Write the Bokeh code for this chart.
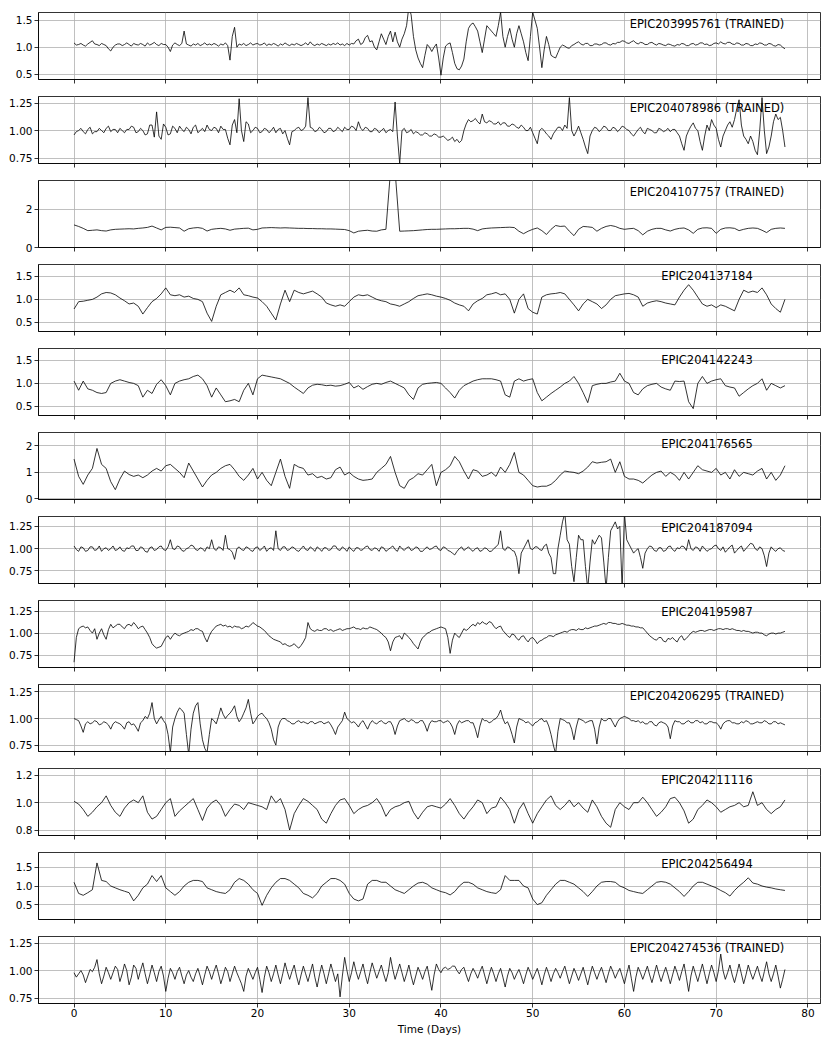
import numpy as np
from bokeh.plotting import figure
from bokeh.layouts import column
from bokeh.models import FixedTicker, Label, Range1d
from bokeh.embed import file_html
from bokeh.resources import INLINE

# ---------------- data ----------------
T_END = 77.5   # days; every series is sampled evenly from 0 to T_END

names = ["EPIC203995761 (TRAINED)", "EPIC204078986 (TRAINED)", "EPIC204107757 (TRAINED)",
         "EPIC204137184", "EPIC204142243", "EPIC204176565", "EPIC204187094",
         "EPIC204195987", "EPIC204206295 (TRAINED)", "EPIC204211116",
         "EPIC204256494", "EPIC204274536 (TRAINED)"]

# 0.25-day cadence
flux_203995761 = [
    1.08, 1.04, 1.05, 1.07, 1.04, 1.02, 1.06, 1.09, 1.12, 1.06, 1.05, 1.03, 1.07, 1.05, 1.03, 0.97, 0.93, 1.00, 1.04, 1.06,
    1.06, 1.03, 1.05, 1.08, 1.05, 1.02, 1.07, 1.05, 1.04, 1.07, 1.05, 1.02, 1.08, 1.04, 1.06, 1.09, 1.05, 1.03, 1.07, 1.05,
    1.05, 1.00, 0.92, 1.04, 1.08, 1.05, 1.03, 1.07, 1.30, 1.06, 1.04, 1.02, 1.06, 1.04, 1.07, 1.03, 1.05, 1.08, 1.04, 1.06,
    1.04, 1.07, 1.05, 1.02, 1.06, 1.04, 1.08, 1.03, 0.76, 1.20, 1.37, 1.00, 1.06, 1.04, 1.07, 1.03, 1.05, 1.08, 1.04, 1.06,
    1.07, 1.04, 1.05, 1.08, 1.03, 1.06, 1.04, 1.07, 1.05, 1.02, 1.06, 1.04, 1.08, 1.05, 1.03, 1.06, 1.04, 1.07, 1.05, 1.03,
    1.05, 1.08, 1.04, 1.10, 1.05, 1.03, 1.06, 1.04, 1.07, 1.05, 1.03, 1.06, 1.04, 1.07, 1.05, 1.08, 1.04, 1.06, 1.03, 1.07,
    1.04, 1.07, 1.06, 1.12, 1.15, 1.05, 1.08, 1.18, 1.22, 1.10, 1.12, 1.00, 0.95, 1.10, 1.25, 1.15, 1.05, 1.20, 1.30, 1.10,
    1.28, 1.10, 1.00, 1.15, 1.25, 1.40, 1.75, 1.60, 1.20, 0.95, 0.80, 0.70, 0.62, 0.85, 1.05, 1.00, 0.92, 1.00, 1.06, 0.80,
    0.48, 0.80, 1.02, 1.06, 1.08, 0.90, 0.70, 0.60, 0.58, 0.65, 0.78, 1.10, 1.35, 1.42, 1.45, 1.38, 1.30, 1.10, 0.90, 1.15,
    1.40, 1.35, 1.30, 1.25, 1.20, 1.40, 1.65, 1.20, 1.00, 1.20, 1.35, 1.15, 1.00, 1.25, 1.40, 1.25, 1.10, 0.90, 0.75, 1.20,
    1.65, 1.50, 1.35, 1.00, 0.62, 0.95, 1.20, 1.05, 0.85, 0.82, 0.80, 0.90, 1.00, 1.04, 1.02, 0.99, 0.98, 1.03, 1.05, 1.08,
    1.10, 1.06, 1.04, 1.07, 1.07, 1.03, 1.03, 1.06, 1.06, 1.04, 1.05, 1.08, 1.08, 1.05, 1.04, 1.07, 1.06, 1.09, 1.09, 1.12,
    1.11, 1.08, 1.07, 1.10, 1.12, 1.08, 1.06, 1.09, 1.08, 1.05, 1.05, 1.08, 1.09, 1.06, 1.04, 1.07, 1.06, 1.04, 1.03, 1.06,
    1.05, 1.03, 1.02, 1.05, 1.04, 1.07, 1.06, 1.03, 1.03, 1.06, 1.07, 1.04, 1.05, 1.08, 1.08, 1.05, 1.06, 1.03, 1.04, 1.07,
    1.08, 1.06, 1.10, 1.07, 1.06, 1.09, 1.09, 1.06, 1.05, 1.08, 1.07, 1.04, 1.04, 1.07, 1.06, 1.03, 1.03, 1.06, 1.05, 1.08,
    1.07, 1.04, 1.04, 1.07, 1.06, 1.03, 1.02, 1.05, 1.04, 1.00, 0.97]

flux_204078986 = [
    0.96, 0.99, 1.00, 1.02, 0.99, 0.97, 1.01, 1.03, 0.97, 0.99, 0.99, 1.02, 1.00, 0.98, 1.02, 1.04, 0.99, 1.01, 1.01, 0.98,
    1.02, 1.00, 0.98, 1.01, 1.01, 1.04, 1.03, 0.98, 0.99, 1.02, 1.00, 0.96, 0.97, 1.05, 1.05, 0.94, 1.17, 0.95, 0.92, 1.06,
    1.03, 0.96, 0.97, 1.04, 1.02, 0.98, 1.04, 1.01, 0.99, 1.03, 1.01, 0.97, 1.03, 1.05, 0.98, 1.00, 1.02, 0.99, 1.05, 1.01,
    1.00, 1.03, 1.02, 0.98, 1.04, 1.01, 1.01, 0.93, 0.87, 1.05, 1.10, 0.98, 1.29, 1.00, 0.90, 1.08, 1.06, 0.98, 1.00, 1.03,
    1.02, 0.98, 0.99, 1.02, 1.01, 0.98, 1.00, 1.03, 0.98, 1.01, 1.02, 0.97, 1.00, 0.93, 0.87, 0.99, 1.00, 1.02, 1.03, 1.00,
    1.01, 1.04, 1.30, 1.03, 1.02, 0.99, 1.00, 1.03, 1.01, 0.98, 0.99, 1.02, 1.02, 0.99, 1.00, 1.03, 1.01, 0.99, 1.03, 1.01,
    1.01, 1.04, 1.03, 1.00, 1.08, 1.02, 1.00, 1.03, 1.02, 0.99, 0.99, 1.02, 1.01, 0.98, 1.00, 1.02, 0.98, 1.00, 1.01, 0.99,
    1.26, 0.95, 0.70, 1.00, 1.02, 0.98, 0.99, 1.01, 0.97, 0.99, 0.98, 0.96, 0.96, 0.98, 0.97, 0.95, 0.95, 0.97, 0.96, 0.94,
    0.94, 0.95, 0.93, 0.91, 0.92, 0.94, 0.90, 0.92, 0.89, 0.91, 1.00, 1.06, 1.10, 1.08, 1.09, 1.11, 1.08, 1.06, 1.15, 1.08,
    1.07, 1.09, 1.08, 1.06, 1.06, 1.08, 1.05, 1.07, 1.07, 1.04, 1.04, 1.06, 1.05, 1.03, 1.02, 1.05, 1.03, 1.00, 1.00, 1.03,
    0.98, 0.93, 0.88, 1.00, 1.02, 1.00, 0.97, 0.95, 0.92, 0.97, 1.00, 1.03, 1.03, 1.00, 1.05, 1.02, 1.30, 1.00, 0.95, 0.99,
    1.04, 0.98, 0.92, 0.85, 0.79, 0.95, 1.00, 1.03, 1.02, 0.99, 1.01, 1.04, 1.03, 1.00, 1.00, 1.03, 1.02, 0.99, 1.01, 1.04,
    1.03, 1.01, 1.00, 0.97, 0.95, 0.98, 1.01, 1.03, 0.99, 0.97, 1.02, 1.01, 1.00, 0.98, 0.98, 1.02, 1.01, 0.99, 1.00, 1.02,
    0.99, 1.01, 1.01, 0.98, 0.95, 0.88, 0.82, 0.95, 1.00, 1.04, 1.07, 1.02, 1.00, 0.90, 0.82, 0.95, 1.05, 1.00, 1.10, 1.05,
    1.02, 0.92, 0.85, 0.95, 1.00, 1.05, 1.08, 1.03, 1.10, 1.20, 1.28, 1.05, 0.95, 0.92, 0.88, 0.95, 0.90, 0.82, 0.78, 1.00,
    1.30, 1.00, 0.79, 0.85, 0.95, 1.08, 1.15, 1.10, 1.12, 1.00, 0.85]

# 0.5-day cadence
flux_204107757 = [
    1.18, 1.10, 1.00, 0.88, 0.90, 0.92, 0.88, 0.86, 0.92, 0.95,
    0.96, 0.97, 0.98, 0.97, 1.00, 1.02, 1.05, 1.12, 1.02, 0.92,
    1.05, 1.06, 1.04, 1.02, 0.85, 0.98, 1.02, 1.04, 1.00, 0.86,
    0.95, 0.98, 1.00, 0.97, 0.90, 0.96, 0.98, 1.00, 1.01, 0.92,
    0.95, 1.02, 1.03, 1.04, 1.03, 1.02, 1.03, 1.02, 1.01, 1.00,
    1.00, 0.99, 0.99, 0.98, 0.98, 0.97, 0.97, 0.96, 0.95, 0.94,
    0.88, 0.76, 0.85, 0.88, 0.90, 0.86, 0.85, 0.92, 0.95, 4.00,
    4.00, 0.85, 0.86, 0.87, 0.88, 0.90, 0.92, 0.94, 0.95, 0.95,
    0.96, 0.97, 0.98, 0.98, 0.99, 1.00, 1.00, 0.96, 0.88, 0.97,
    1.00, 1.02, 1.03, 1.04, 1.05, 1.06, 1.04, 0.85, 0.72, 0.85,
    0.95, 1.02, 0.88, 0.68, 0.95, 1.15, 1.10, 1.12, 0.85, 0.62,
    0.95, 1.10, 1.08, 1.05, 0.85, 1.00, 1.10, 1.15, 1.10, 1.00,
    0.95, 0.98, 1.00, 0.88, 0.66, 0.85, 0.95, 1.00, 1.00, 0.92,
    0.86, 0.95, 1.00, 1.02, 0.92, 0.74, 0.95, 1.02, 1.03, 1.00,
    0.74, 0.95, 1.02, 1.03, 1.00, 0.88, 0.95, 1.00, 1.02, 1.00,
    0.90, 0.78, 0.95, 1.00, 1.02, 1.00]

flux_204137184 = [
    0.79, 0.95, 0.96, 0.98, 1.00, 1.05, 1.12, 1.15, 1.14, 1.10,
    1.03, 0.97, 0.90, 0.92, 0.85, 0.68, 0.82, 0.95, 1.02, 1.12,
    1.25, 1.10, 1.08, 1.10, 1.05, 1.07, 1.02, 1.00, 0.95, 0.70,
    0.52, 0.85, 1.10, 1.15, 1.20, 1.15, 1.25, 1.10, 1.08, 1.05,
    1.03, 0.95, 0.85, 0.70, 0.55, 0.90, 1.20, 0.95, 1.20, 1.15,
    1.12, 1.15, 1.18, 1.12, 1.05, 0.92, 0.88, 0.85, 0.88, 0.85,
    0.95, 1.05, 1.10, 1.08, 1.10, 1.05, 1.00, 0.97, 0.95, 0.90,
    0.88, 0.85, 0.90, 0.95, 1.02, 1.08, 1.10, 1.12, 1.10, 1.07,
    1.05, 1.02, 0.98, 0.92, 0.88, 0.85, 0.75, 0.90, 0.97, 1.02,
    1.10, 1.12, 1.15, 1.10, 1.12, 1.00, 0.70, 1.00, 1.12, 0.80,
    0.72, 0.68, 1.05, 1.10, 1.12, 1.13, 1.15, 1.12, 1.00, 0.88,
    0.75, 0.90, 1.00, 0.95, 0.90, 0.80, 0.88, 1.00, 1.08, 1.10,
    1.12, 1.13, 1.10, 1.05, 0.85, 0.92, 0.95, 0.97, 0.95, 0.92,
    0.90, 0.88, 1.05, 1.20, 1.32, 1.20, 1.05, 0.90, 0.85, 0.88,
    0.82, 0.88, 0.85, 0.80, 0.75, 1.00, 1.20, 1.15, 1.18, 1.15,
    1.25, 1.10, 0.90, 0.80, 0.72, 1.00]

flux_204142243 = [
    1.05, 0.85, 1.05, 0.88, 0.85, 0.80, 0.78, 0.80, 1.00, 1.05,
    1.08, 1.05, 1.02, 1.00, 0.95, 0.70, 0.85, 0.78, 0.98, 1.08,
    0.95, 0.75, 1.00, 1.05, 1.08, 1.10, 1.15, 1.18, 1.10, 0.95,
    0.70, 0.90, 0.75, 0.60, 0.62, 0.65, 0.60, 0.85, 1.00, 0.75,
    1.10, 1.18, 1.16, 1.14, 1.12, 1.10, 1.05, 1.00, 0.92, 0.85,
    0.78, 0.90, 0.96, 0.98, 0.97, 0.95, 0.96, 0.94, 0.95, 0.98,
    1.02, 0.90, 0.95, 0.87, 0.93, 0.98, 1.00, 0.98, 1.02, 1.05,
    1.00, 0.95, 0.90, 0.75, 0.65, 0.90, 0.98, 1.00, 1.01, 1.02,
    1.00, 0.90, 0.80, 0.68, 0.85, 0.95, 1.00, 1.05, 1.08, 1.10,
    1.10, 1.10, 1.08, 1.05, 0.75, 0.70, 1.05, 1.10, 1.05, 1.08,
    1.10, 0.80, 0.62, 0.70, 0.78, 0.85, 0.92, 1.00, 1.05, 1.15,
    1.00, 0.80, 0.58, 0.95, 0.98, 1.00, 1.00, 1.03, 1.05, 1.22,
    1.05, 1.00, 0.80, 0.75, 0.88, 0.95, 0.98, 1.00, 0.92, 0.88,
    0.85, 1.05, 1.04, 1.05, 0.60, 0.45, 1.00, 1.15, 1.00, 1.05,
    1.08, 1.10, 0.95, 0.92, 0.90, 0.72, 0.80, 0.88, 0.95, 1.00,
    1.10, 0.85, 1.00, 0.95, 0.90, 0.95]

flux_204176565 = [
    1.50, 0.85, 0.55, 0.90, 1.15, 1.90, 1.30, 1.15, 0.65, 0.35,
    0.75, 1.05, 0.92, 0.85, 0.90, 0.80, 0.90, 1.05, 1.15, 1.05,
    1.25, 1.30, 1.15, 1.00, 0.80, 1.35, 1.05, 0.75, 0.45, 0.70,
    0.90, 1.00, 1.15, 1.25, 1.30, 1.10, 0.85, 0.70, 0.90, 1.15,
    0.75, 1.00, 0.70, 0.50, 1.00, 1.50, 0.85, 0.40, 1.30, 1.20,
    1.15, 0.90, 0.95, 0.80, 0.85, 0.75, 0.80, 1.10, 1.20, 0.90,
    1.00, 0.85, 0.75, 0.70, 0.72, 0.75, 1.00, 1.15, 1.30, 1.60,
    1.00, 0.50, 0.40, 0.70, 0.80, 0.95, 0.90, 1.10, 1.30, 0.50,
    1.00, 1.10, 1.25, 1.60, 1.40, 1.05, 0.75, 1.10, 1.05, 0.85,
    0.90, 1.00, 0.85, 1.20, 1.00, 1.30, 1.75, 1.00, 0.90, 0.70,
    0.50, 0.45, 0.48, 0.48, 0.55, 0.70, 0.90, 1.05, 1.02, 1.00,
    0.95, 1.05, 1.20, 1.40, 1.35, 1.38, 1.40, 1.50, 1.00, 1.40,
    0.85, 0.75, 0.75, 0.70, 0.60, 0.75, 0.90, 1.00, 1.05, 0.85,
    1.00, 0.90, 0.70, 1.00, 0.75, 1.00, 1.25, 1.10, 1.05, 1.00,
    1.15, 0.90, 1.00, 0.75, 1.10, 0.85, 1.00, 0.95, 0.90, 1.05,
    1.15, 0.75, 1.00, 0.70, 0.90, 1.25]

# 0.25-day cadence
flux_204187094 = [
    1.03, 0.99, 0.97, 1.02, 1.01, 0.97, 0.98, 1.02, 1.02, 0.98, 0.99, 1.03, 0.97, 1.00, 1.01, 0.98, 1.00, 1.03, 0.98, 0.99,
    1.02, 0.98, 0.97, 1.01, 1.00, 1.03, 1.03, 0.98, 0.98, 1.02, 1.01, 0.97, 0.96, 1.01, 1.02, 0.98, 0.99, 1.02, 1.03, 0.99,
    0.98, 1.02, 1.10, 1.00, 0.99, 1.03, 1.02, 0.98, 0.97, 1.00, 1.01, 1.04, 1.03, 0.99, 0.98, 1.01, 1.00, 0.97, 1.02, 1.00,
    1.10, 1.00, 0.98, 1.02, 1.01, 0.98, 1.15, 1.00, 0.99, 0.96, 0.88, 1.00, 1.02, 0.99, 0.98, 1.02, 1.01, 0.98, 0.97, 1.01,
    1.02, 0.98, 1.00, 1.03, 0.97, 1.00, 1.01, 0.98, 1.20, 1.00, 0.98, 1.02, 1.02, 0.98, 0.99, 1.02, 1.01, 0.98, 0.97, 1.00,
    1.03, 0.99, 0.98, 1.02, 1.00, 0.97, 1.02, 1.00, 0.97, 1.01, 1.01, 0.98, 0.99, 1.03, 1.03, 0.99, 0.98, 1.02, 1.00, 0.97,
    1.02, 0.99, 0.97, 1.01, 1.01, 0.98, 0.99, 1.02, 1.03, 0.99, 0.98, 1.01, 1.00, 0.97, 1.02, 1.01, 0.97, 0.99, 1.01, 1.03,
    0.99, 0.97, 1.03, 1.00, 0.98, 1.01, 1.02, 0.98, 0.99, 1.02, 1.01, 0.97, 0.97, 1.00, 1.02, 0.99, 1.00, 1.02, 1.03, 0.99,
    0.98, 1.02, 1.01, 0.98, 0.97, 0.95, 0.93, 0.97, 1.00, 1.02, 0.98, 1.00, 1.02, 0.99, 0.97, 1.00, 1.01, 0.97, 0.98, 1.01,
    1.00, 0.97, 0.97, 1.00, 1.02, 1.05, 1.20, 1.00, 0.98, 1.02, 1.01, 0.98, 0.97, 0.90, 0.72, 0.95, 1.00, 1.05, 1.10, 1.00,
    0.99, 1.02, 1.02, 0.99, 0.98, 1.03, 1.05, 0.95, 0.90, 0.72, 0.72, 1.00, 1.15, 1.30, 1.40, 1.10, 1.05, 0.80, 0.63, 0.90,
    1.15, 1.10, 1.10, 0.80, 0.55, 0.85, 1.10, 1.05, 1.10, 1.15, 1.12, 0.85, 0.55, 0.90, 1.20, 1.25, 1.30, 1.22, 1.25, 0.55,
    1.40, 1.10, 1.05, 1.00, 0.95, 0.98, 1.00, 0.90, 0.78, 0.95, 1.00, 1.03, 1.02, 0.98, 0.97, 1.01, 1.01, 0.97, 0.98, 1.02,
    1.03, 0.99, 0.97, 1.01, 1.00, 1.03, 1.02, 0.98, 1.10, 1.00, 0.98, 1.02, 1.01, 0.97, 1.03, 1.00, 0.97, 0.99, 1.00, 1.03,
    1.04, 1.00, 0.98, 1.02, 0.96, 0.99, 1.02, 1.04, 0.95, 0.98, 1.01, 1.03, 0.97, 1.00, 1.03, 1.06, 1.05, 1.00, 0.98, 1.02,
    1.00, 0.92, 0.80, 0.95, 1.02, 0.99, 0.97, 1.00, 1.01, 0.98, 0.97]

flux_204195987 = [
    0.67, 0.95, 1.05, 1.07, 1.08, 1.06, 1.07, 1.03, 1.00, 1.05, 0.93, 1.00, 1.05, 0.98, 0.93, 1.04, 1.10, 1.06, 1.08, 1.10,
    1.10, 1.07, 1.05, 1.09, 1.10, 1.08, 1.12, 1.09, 1.05, 1.07, 1.08, 1.04, 1.00, 0.95, 0.88, 0.85, 0.83, 0.84, 0.85, 0.90,
    0.95, 0.97, 0.93, 0.97, 1.00, 0.98, 0.97, 0.99, 1.00, 1.01, 1.02, 1.04, 1.03, 1.05, 1.05, 1.03, 1.02, 0.95, 0.90, 0.97,
    1.02, 1.05, 1.08, 1.09, 1.10, 1.08, 1.09, 1.07, 1.08, 1.06, 1.08, 1.07, 1.07, 1.05, 1.06, 1.08, 1.07, 1.09, 1.12, 1.10,
    1.08, 1.07, 1.05, 1.03, 1.00, 0.97, 0.95, 0.93, 0.92, 0.91, 0.90, 0.87, 0.88, 0.86, 0.85, 0.86, 0.88, 0.85, 0.83, 0.86,
    0.90, 0.95, 1.12, 1.05, 1.03, 1.02, 1.04, 1.03, 1.03, 1.05, 1.05, 1.03, 1.04, 1.02, 1.03, 1.04, 1.05, 1.03, 1.04, 1.05,
    1.05, 1.06, 1.07, 1.05, 1.05, 1.04, 1.06, 1.05, 1.05, 1.07, 1.06, 1.05, 1.04, 1.02, 1.00, 0.97, 0.95, 0.90, 0.80, 0.90,
    0.95, 0.96, 0.97, 0.93, 1.00, 0.98, 0.95, 0.92, 0.88, 0.85, 0.82, 0.90, 0.95, 0.97, 1.00, 1.01, 1.03, 1.04, 1.05, 1.06,
    1.07, 1.06, 1.05, 0.95, 0.77, 0.92, 1.00, 0.97, 0.95, 1.00, 1.05, 1.03, 1.05, 1.08, 1.10, 1.08, 1.12, 1.10, 1.13, 1.11,
    1.10, 1.13, 1.12, 1.08, 1.05, 1.07, 1.08, 1.03, 1.00, 0.97, 0.95, 0.99, 0.98, 0.94, 0.92, 0.96, 0.97, 0.93, 0.90, 0.94,
    0.95, 0.92, 0.88, 0.91, 0.92, 0.94, 0.95, 0.97, 0.97, 0.96, 0.98, 0.99, 1.00, 1.01, 1.02, 1.01, 1.03, 1.04, 1.04, 1.03,
    1.05, 1.04, 1.04, 1.06, 1.05, 1.06, 1.07, 1.08, 1.08, 1.09, 1.10, 1.11, 1.10, 1.12, 1.12, 1.11, 1.11, 1.10, 1.10, 1.11,
    1.10, 1.09, 1.09, 1.08, 1.08, 1.07, 1.07, 1.06, 1.06, 1.03, 1.00, 0.97, 0.95, 0.93, 0.92, 0.95, 0.95, 0.91, 0.90, 0.94,
    0.93, 0.95, 0.92, 0.90, 0.95, 0.97, 0.92, 0.94, 0.97, 1.00, 1.02, 1.01, 1.02, 1.03, 1.03, 1.02, 1.03, 1.04, 1.04, 1.03,
    1.04, 1.05, 1.05, 1.04, 1.05, 1.05, 1.04, 1.05, 1.04, 1.03, 1.03, 1.02, 1.03, 1.02, 1.02, 1.01, 1.00, 1.01, 1.01, 1.00,
    1.00, 0.98, 0.97, 0.99, 1.00, 1.00, 0.99, 1.00, 1.00, 1.01, 1.02]

flux_204206295 = [
    1.00, 0.99, 0.98, 0.93, 0.87, 0.95, 0.97, 0.95, 0.96, 0.98, 0.97, 0.94, 0.95, 0.97, 0.96, 0.94, 0.90, 0.95, 0.97, 0.96,
    0.95, 0.93, 0.90, 0.96, 0.97, 0.94, 0.95, 0.92, 0.88, 0.96, 0.98, 1.02, 1.00, 1.05, 1.15, 1.00, 0.95, 0.99, 1.02, 0.98,
    0.95, 0.85, 0.68, 0.92, 1.00, 1.06, 1.10, 1.08, 1.05, 0.85, 0.66, 0.90, 1.05, 1.12, 1.15, 0.95, 0.80, 0.72, 0.68, 0.85,
    1.00, 0.98, 0.95, 1.02, 1.10, 1.04, 1.00, 1.03, 1.05, 1.08, 1.12, 1.02, 0.97, 1.00, 1.05, 1.10, 1.18, 1.05, 0.95, 0.98,
    1.02, 1.04, 1.05, 1.02, 1.00, 0.96, 0.90, 0.80, 0.75, 0.92, 0.98, 1.00, 1.00, 0.98, 0.97, 0.95, 0.95, 0.97, 0.98, 0.96,
    0.97, 0.96, 0.95, 0.97, 0.97, 0.95, 0.96, 0.97, 0.97, 0.95, 0.96, 0.97, 0.94, 0.90, 0.85, 0.92, 0.95, 0.98, 1.06, 1.00,
    0.98, 0.96, 0.97, 0.95, 0.92, 0.96, 0.98, 0.94, 0.90, 0.95, 0.98, 0.96, 0.95, 0.97, 0.98, 0.96, 0.95, 0.97, 0.97, 0.93,
    0.85, 0.93, 0.98, 0.99, 1.00, 0.98, 0.97, 0.99, 0.98, 0.96, 0.96, 0.98, 0.98, 0.94, 0.88, 0.95, 0.98, 0.97, 0.97, 0.98,
    0.98, 0.96, 0.97, 0.98, 0.96, 0.92, 0.85, 0.94, 0.98, 0.96, 0.97, 0.98, 0.98, 0.96, 0.96, 0.90, 0.82, 0.93, 1.00, 0.98,
    0.98, 0.96, 0.97, 0.99, 1.00, 1.03, 1.08, 1.00, 0.95, 0.97, 0.92, 0.85, 0.77, 0.92, 1.00, 0.99, 0.98, 0.96, 0.97, 0.95,
    0.93, 0.96, 0.97, 0.99, 1.00, 0.97, 0.98, 0.93, 0.85, 0.75, 0.67, 0.88, 1.00, 0.99, 0.98, 0.96, 0.96, 0.90, 0.80, 0.92,
    1.00, 0.99, 0.98, 0.96, 0.97, 0.98, 0.98, 0.90, 0.76, 0.92, 1.00, 0.98, 0.98, 1.00, 1.00, 0.96, 0.92, 0.97, 1.00, 1.01,
    1.02, 1.01, 1.00, 0.98, 0.98, 0.97, 0.98, 0.96, 0.97, 0.95, 0.95, 0.97, 0.97, 0.94, 0.93, 0.96, 0.97, 0.96, 0.95, 0.92,
    0.81, 0.93, 0.98, 0.97, 0.97, 0.95, 0.95, 0.97, 0.98, 0.96, 0.96, 0.98, 0.98, 0.96, 0.97, 0.95, 0.95, 0.97, 0.97, 0.96,
    0.96, 0.94, 0.90, 0.95, 0.97, 0.98, 0.98, 0.96, 0.96, 0.95, 0.95, 0.97, 0.96, 0.98, 0.97, 0.95, 0.95, 0.96, 0.97, 0.96,
    0.96, 0.98, 0.97, 0.95, 0.95, 0.97, 0.97, 0.95, 0.96, 0.95, 0.94]

# 0.5-day cadence
flux_204211116 = [
    1.01, 0.99, 0.95, 0.90, 0.93, 0.97, 1.00, 1.05, 0.98, 0.93,
    0.90, 0.96, 1.00, 1.02, 1.00, 1.05, 0.93, 0.88, 0.90, 0.95,
    1.00, 1.03, 0.90, 0.94, 0.97, 1.00, 1.03, 0.95, 0.87, 0.96,
    1.00, 1.02, 0.98, 0.90, 0.95, 0.99, 0.98, 0.95, 1.00, 0.99,
    0.98, 0.97, 0.95, 1.05, 1.00, 1.03, 0.95, 0.80, 0.92, 0.98,
    1.03, 1.01, 0.98, 0.95, 0.88, 0.85, 0.92, 0.98, 1.02, 1.03,
    0.98, 0.92, 0.95, 0.97, 0.98, 1.00, 1.03, 0.98, 0.90, 0.95,
    0.97, 0.98, 1.00, 1.01, 0.93, 0.88, 0.93, 0.97, 0.98, 0.97,
    0.96, 0.99, 1.03, 0.98, 0.92, 0.88, 0.93, 0.97, 1.02, 1.00,
    0.92, 0.96, 0.97, 1.04, 1.00, 0.95, 0.85, 0.95, 1.00, 0.92,
    0.85, 0.92, 0.97, 1.02, 1.05, 0.98, 0.95, 0.98, 1.02, 0.97,
    1.00, 0.96, 0.93, 1.02, 0.97, 0.90, 0.85, 0.82, 0.95, 1.00,
    0.97, 0.95, 1.00, 1.00, 1.04, 1.00, 0.95, 0.90, 0.93, 0.97,
    1.03, 1.04, 1.00, 0.94, 0.85, 0.88, 0.95, 0.98, 1.02, 1.00,
    0.97, 0.93, 0.95, 0.97, 0.98, 1.00, 0.97, 0.98, 1.08, 0.98,
    1.00, 0.95, 0.92, 0.95, 0.97, 1.02]

flux_204256494 = [
    1.10, 0.80, 0.75, 0.82, 0.90, 1.62, 1.15, 1.12, 1.00, 0.95,
    0.90, 0.86, 0.82, 0.60, 0.75, 0.95, 1.05, 1.28, 1.12, 1.28,
    0.95, 0.85, 0.75, 0.85, 1.00, 1.10, 1.15, 1.15, 1.12, 0.95,
    0.90, 0.85, 0.82, 0.80, 0.90, 1.10, 1.20, 1.15, 1.05, 0.90,
    0.80, 0.48, 0.75, 0.95, 1.10, 1.20, 1.20, 1.15, 1.05, 0.95,
    0.80, 0.75, 0.68, 0.80, 1.00, 1.10, 1.20, 1.20, 1.15, 1.05,
    0.80, 0.65, 0.60, 0.65, 1.05, 1.15, 1.15, 1.10, 1.10, 1.00,
    0.90, 0.85, 0.80, 0.90, 1.00, 1.08, 1.10, 1.05, 0.95, 0.90,
    0.85, 0.82, 0.76, 0.85, 1.00, 1.10, 1.10, 1.05, 0.95, 0.90,
    0.85, 0.82, 0.80, 0.90, 1.28, 1.15, 1.15, 1.15, 1.00, 0.95,
    0.65, 0.50, 0.55, 0.75, 0.90, 1.05, 1.15, 1.15, 1.10, 1.05,
    0.95, 0.85, 0.72, 0.85, 1.00, 1.10, 1.12, 1.12, 1.10, 1.00,
    0.95, 0.88, 0.85, 0.82, 0.80, 0.90, 1.00, 1.10, 1.12, 1.10,
    1.05, 0.95, 0.85, 0.72, 0.85, 1.00, 1.10, 1.10, 1.05, 1.00,
    0.95, 0.88, 0.82, 0.73, 0.88, 1.00, 1.10, 1.22, 1.08, 1.05,
    1.00, 0.97, 0.95, 0.92, 0.90, 0.88]

# 0.25-day cadence
flux_204274536 = [
    0.98, 0.94, 0.97, 1.00, 0.96, 0.89, 0.95, 1.01, 0.99, 1.03, 1.10, 0.97, 0.88, 0.95, 1.03, 0.98, 0.92, 0.98, 1.04, 1.01,
    0.90, 0.97, 1.06, 1.00, 0.87, 0.94, 1.05, 1.02, 0.92, 1.00, 1.07, 0.97, 0.88, 0.96, 1.05, 0.98, 0.90, 0.99, 1.04, 0.95,
    0.81, 0.93, 1.02, 0.98, 0.92, 0.99, 1.03, 0.95, 0.88, 0.96, 1.00, 0.94, 0.90, 0.97, 1.02, 0.95, 0.87, 0.96, 1.04, 0.99,
    0.92, 0.99, 1.05, 0.97, 0.88, 0.95, 1.03, 0.99, 0.90, 0.97, 1.04, 0.98, 0.93, 0.88, 0.81, 0.95, 1.02, 0.97, 0.92, 0.98,
    1.03, 0.92, 0.80, 0.94, 1.04, 0.98, 0.90, 0.97, 1.05, 0.96, 0.88, 0.97, 1.07, 0.99, 0.92, 0.99, 1.05, 0.95, 0.87, 0.96,
    1.04, 0.97, 0.90, 0.98, 1.06, 0.94, 0.85, 0.96, 1.05, 0.97, 0.88, 0.97, 1.06, 0.98, 0.90, 0.97, 0.76, 0.95, 1.12, 1.00,
    0.90, 0.98, 1.08, 0.99, 0.92, 0.99, 1.06, 0.96, 0.88, 0.98, 1.07, 1.00, 0.93, 0.99, 1.05, 0.97, 0.90, 0.98, 1.12, 1.01,
    0.92, 0.99, 1.06, 0.98, 0.90, 0.97, 1.05, 0.95, 0.87, 0.95, 1.03, 0.98, 0.92, 0.99, 1.04, 0.93, 0.82, 0.96, 1.06, 1.01,
    0.98, 1.02, 1.03, 1.01, 1.02, 1.04, 1.04, 1.00, 0.97, 1.01, 1.03, 0.96, 0.90, 0.97, 1.02, 0.98, 0.93, 0.99, 1.04, 0.96,
    0.88, 0.96, 1.03, 0.97, 0.90, 0.97, 1.02, 0.94, 0.85, 0.95, 1.02, 0.98, 0.92, 0.97, 1.01, 0.95, 0.88, 0.96, 1.03, 0.98,
    0.92, 0.97, 1.02, 0.95, 0.87, 0.96, 1.03, 0.97, 0.90, 0.97, 1.02, 0.98, 0.93, 0.99, 1.04, 0.96, 0.88, 0.95, 1.02, 0.97,
    0.91, 0.97, 1.03, 0.95, 0.87, 0.96, 1.04, 0.98, 0.92, 0.98, 1.03, 0.96, 0.89, 0.97, 1.04, 0.99, 0.93, 0.98, 1.02, 0.95,
    0.88, 0.97, 1.05, 0.93, 0.81, 0.94, 1.03, 0.98, 0.92, 0.98, 1.04, 0.96, 0.89, 0.97, 1.05, 0.97, 0.90, 0.97, 1.03, 0.96,
    0.88, 0.96, 1.04, 0.98, 0.91, 0.99, 1.06, 0.94, 0.81, 0.95, 1.04, 0.97, 0.90, 0.98, 1.06, 0.97, 0.88, 0.97, 1.05, 0.98,
    0.90, 1.00, 1.15, 1.00, 0.92, 0.98, 1.05, 0.96, 0.89, 0.97, 1.06, 0.97, 0.88, 0.96, 1.05, 0.98, 0.92, 0.98, 1.04, 0.96,
    0.90, 0.99, 1.08, 0.97, 0.90, 0.97, 1.05, 0.95, 0.84, 0.92, 1.01]

fluxes = [flux_203995761, flux_204078986, flux_204107757, flux_204137184,
          flux_204142243, flux_204176565, flux_204187094, flux_204195987,
          flux_204206295, flux_204211116, flux_204256494, flux_204274536]

y_tick_values = [[0.5, 1.0, 1.5], [0.75, 1.0, 1.25], [0, 2], [0.5, 1.0, 1.5],
                 [0.5, 1.0, 1.5], [0, 1, 2], [0.75, 1.0, 1.25], [0.75, 1.0, 1.25],
                 [0.75, 1.0, 1.25], [0.8, 1.0, 1.2], [0.5, 1.0, 1.5], [0.75, 1.0, 1.25]]
y_tick_labels = [["0.5", "1.0", "1.5"], ["0.75", "1.00", "1.25"], ["0", "2"], ["0.5", "1.0", "1.5"],
                 ["0.5", "1.0", "1.5"], ["0", "1", "2"], ["0.75", "1.00", "1.25"], ["0.75", "1.00", "1.25"],
                 ["0.75", "1.00", "1.25"], ["0.8", "1.0", "1.2"], ["0.5", "1.0", "1.5"], ["0.75", "1.00", "1.25"]]
x_tick_values = [0, 10, 20, 30, 40, 50, 60, 70, 80]
x_tick_labels = ["0", "10", "20", "30", "40", "50", "60", "70", "80"]

for f in fluxes:
    assert len(f) in (156, 311), len(f)

# ---------------- layout / style ----------------
y_limits = [(0.40, 1.645), (0.70, 1.31), (0.0, 3.5), (0.30, 1.76), (0.30, 1.76), (-0.02, 2.5),
            (0.61, 1.36), (0.61, 1.37), (0.69, 1.32), (0.76, 1.25), (0.10, 1.90), (0.70, 1.31)]

FONT = "DejaVu Sans"
TICK_FS = "10.5px"
GRID = "#b0b0b0"
FRAME_H = 67

figs = []
n = len(names)
for i, (name, flux) in enumerate(zip(names, fluxes)):
    first, last = i == 0, i == n - 1
    top = 12 if first else 4
    bottom = 34 if last else 13
    lo, hi = y_limits[i]
    t = np.linspace(0.0, T_END, len(flux))
    p = figure(width=822, height=top + FRAME_H + bottom,
               x_range=Range1d(-3.875, 81.375), y_range=Range1d(lo, hi),
               output_backend="svg", toolbar_location=None,
               min_border_left=38, min_border_right=2,
               min_border_top=top, min_border_bottom=bottom)
    p.background_fill_color = "white"
    p.border_fill_color = "white"
    p.outline_line_color = "black"
    p.outline_line_width = 0.8

    p.line(t, flux, line_color="black", line_width=0.8)

    for ax in (p.xaxis[0], p.yaxis[0]):
        ax.axis_line_color = "black"
        ax.axis_line_width = 0.8
        ax.major_tick_line_color = "black"
        ax.major_tick_line_width = 0.8
        ax.major_tick_out = 4
        ax.major_tick_in = 0
        ax.minor_tick_out = 0
        ax.minor_tick_in = 0
        ax.major_label_text_font = FONT
        ax.major_label_text_font_size = TICK_FS
        ax.major_label_text_color = "black"

    p.xaxis.ticker = FixedTicker(ticks=x_tick_values)
    p.yaxis.ticker = FixedTicker(ticks=y_tick_values[i])
    p.yaxis.major_label_overrides = {v: s for v, s in zip(y_tick_values[i], y_tick_labels[i])}
    p.yaxis.major_label_standoff = 2
    if last:
        p.xaxis.major_label_overrides = {v: s for v, s in zip(x_tick_values, x_tick_labels)}
        p.xaxis.major_label_standoff = 1
        p.xaxis.axis_label = "Time (Days)"
        p.xaxis.axis_label_text_font = FONT
        p.xaxis.axis_label_text_font_size = TICK_FS
        p.xaxis.axis_label_text_font_style = "normal"
        p.xaxis.axis_label_text_color = "black"
        p.xaxis.axis_label_standoff = 3
    else:
        # tick marks only: labels are not painted on the stacked panels
        p.xaxis.major_label_text_color = None
        p.xaxis.major_label_text_font_size = "1px"
        p.xaxis.major_label_standoff = 0

    p.xgrid.grid_line_color = GRID
    p.ygrid.grid_line_color = GRID
    p.xgrid.grid_line_width = 0.8
    p.ygrid.grid_line_width = 0.8

    label = Label(x=69.0, y=lo + 0.835 * (hi - lo), text=name,
                  text_font=FONT, text_font_size="11.5px", text_baseline="middle",
                  text_align="center", text_color="black")
    p.add_layout(label)
    figs.append(p)

layout = column(*figs, spacing=0)
open("out.html", "w").write(file_html(layout, INLINE))
